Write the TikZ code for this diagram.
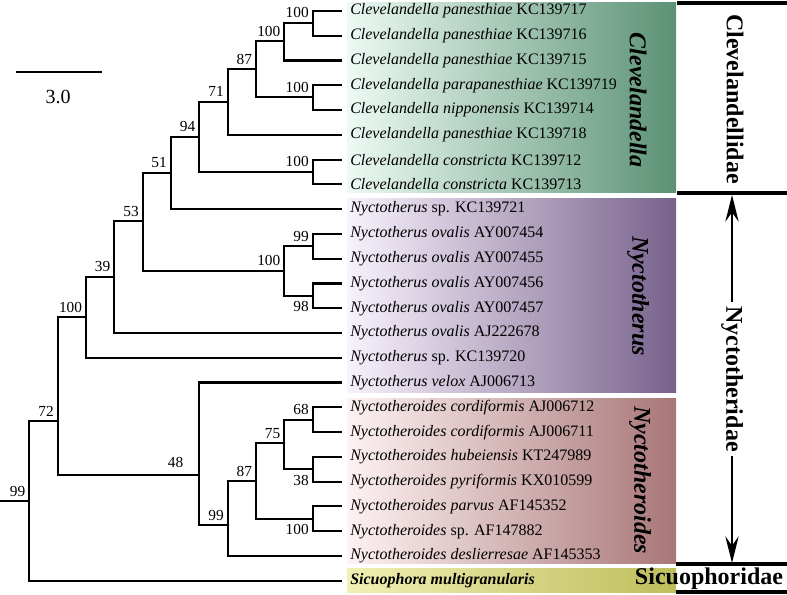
\documentclass[tikz,border=0pt]{standalone}
\usepackage{fontspec}
\setmainfont{Liberation Serif}
\usetikzlibrary{arrows.meta,positioning}
\definecolor{clevL}{RGB}{236,250,243}
\definecolor{clevR}{RGB}{92,146,118}
\definecolor{nyctL}{RGB}{248,242,252}
\definecolor{nyctR}{RGB}{120,98,140}
\definecolor{nyroL}{RGB}{254,242,242}
\definecolor{nyroR}{RGB}{168,118,120}
\definecolor{sicuL}{RGB}{240,240,180}
\definecolor{sicuR}{RGB}{190,190,92}
\tikzset{
  branch/.style={line width=1.6pt, line cap=rect},
  taxon/.style={anchor=west, inner sep=0pt, font=\fontsize{12}{14}\selectfont},
  bsup/.style={inner sep=1pt, anchor=south east, xshift=-1.8pt, yshift=2.4pt,
    font=\fontsize{11.5}{13}\selectfont},
  bsdown/.style={inner sep=1pt, anchor=north east, xshift=-1.8pt, yshift=-3pt,
    font=\fontsize{11.5}{13}\selectfont},
  genus/.style={rotate=-90, inner sep=0pt, font=\fontsize{18}{20}\selectfont\bfseries\itshape},
  family/.style={inner sep=0pt, font=\fontsize{18}{20}\selectfont\bfseries},
  familybar/.style={line width=2.5pt},
  familyarrow/.style={line width=1.5pt, -{Stealth[length=20pt,width=10pt,inset=7pt]}}
}

\begin{document}
\begin{tikzpicture}[x=0.75pt, y=-0.75pt]
  \useasboundingbox (0,0) rectangle (787,594);
  %
  % ==================================================================
  % Genus boxes (shaded, white on the left)
  % ==================================================================
  \shade[left color=clevL, right color=clevR] (347,2) rectangle (676,192);
  \shade[left color=nyctL, right color=nyctR] (347,198) rectangle (676,392);
  \shade[left color=nyroL, right color=nyroR] (347,398) rectangle (676,563);
  \shade[left color=sicuL, right color=sicuR] (347,568) rectangle (676,592);
  %
  % ==================================================================
  % Taxa: tip coordinate (l\i) and label (t\i), 24.77px per row
  % ==================================================================
  \foreach \i/\sp/\acc in {
      0/Clevelandella panesthiae/KC139717,
      1/Clevelandella panesthiae/KC139716,
      2/Clevelandella panesthiae/KC139715,
      3/Clevelandella parapanesthiae/KC139719,
      4/Clevelandella nipponensis/KC139714,
      5/Clevelandella panesthiae/KC139718,
      6/Clevelandella constricta/KC139712,
      7/Clevelandella constricta/KC139713,
      9/Nyctotherus ovalis/AY007454,
      10/Nyctotherus ovalis/AY007455,
      11/Nyctotherus ovalis/AY007456,
      12/Nyctotherus ovalis/AY007457,
      13/Nyctotherus ovalis/AJ222678,
      15/Nyctotherus velox/AJ006713,
      16/Nyctotheroides cordiformis/AJ006712,
      17/Nyctotheroides cordiformis/AJ006711,
      18/Nyctotheroides hubeiensis/KT247989,
      19/Nyctotheroides pyriformis/KX010599,
      20/Nyctotheroides parvus/AF145352,
      22/Nyctotheroides deslierresae/AF145353}{
    \coordinate (l\i) at (341,{11+24.77*\i});
    \node[taxon] (t\i) at (350,{11+24.77*\i}) {\textit{\sp} \acc};
  }
  % the "sp." rows keep the epithet upright
  \foreach \i/\sp/\acc in {8/Nyctotherus/KC139721, 14/Nyctotherus/KC139720,
      21/Nyctotheroides/AF147882}{
    \coordinate (l\i) at (341,{11+24.77*\i});
    \node[taxon] (t\i) at (350,{11+24.77*\i}) {\textit{\sp} sp. \acc};
  }
  \coordinate (l23) at (341,{11+24.77*23});
  \node[taxon] (t23) at (350,{11+24.77*23}) {\textbf{\textit{Sicuophora multigranularis}}};
  %
  % ==================================================================
  % Internal nodes (x = depth, y = stem)
  % ==================================================================
  \coordinate (nA) at (312.7,22.7);
  \coordinate (nB) at (284.3,41.3);
  \coordinate (nD) at (312.7,97);
  \coordinate (nC) at (256,69);
  \coordinate (nE) at (227.7,101.7);
  \coordinate (nG) at (312.7,171.7);
  \coordinate (nF) at (199.3,136.7);
  \coordinate (nH) at (170.7,172.7);
  \coordinate (nK) at (312.7,246.3);
  \coordinate (nL) at (312.7,295.9);
  \coordinate (nJ) at (284.3,270.7);
  \coordinate (nI) at (142.7,221);
  \coordinate (nM) at (114.3,276.7);
  \coordinate (nN) at (86,317);
  \coordinate (nU) at (312.7,419.7);
  \coordinate (nV) at (312.7,469.3);
  \coordinate (nS) at (284.3,443.3);
  \coordinate (nT) at (312.7,518.8);
  \coordinate (nR) at (256,481);
  \coordinate (nQ) at (227.7,525);
  \coordinate (nP) at (199.3,475);
  \coordinate (nO) at (57.7,421);
  \coordinate (nW) at (29.3,501);
  \coordinate (root) at (0.7,501);
  %
  % ==================================================================
  % Branches
  % ==================================================================
  \draw[branch] (l0) -| (nA) |- (l1);
  \draw[branch] (nA) -| (nB) |- (l2);
  \draw[branch] (l3) -| (nD) |- (l4);
  \draw[branch] (nB) -| (nC) |- (nD);
  \draw[branch] (nC) -| (nE) |- (l5);
  \draw[branch] (l6) -| (nG) |- (l7);
  \draw[branch] (nE) -| (nF) |- (nG);
  \draw[branch] (nF) -| (nH) |- (l8);
  \draw[branch] (l9) -| (nK) |- (l10);
  \draw[branch] (l11) -| (nL) |- (l12);
  \draw[branch] (nK) -| (nJ) |- (nL);
  \draw[branch] (nH) -| (nI) |- (nJ);
  \draw[branch] (nI) -| (nM) |- (l13);
  \draw[branch] (nM) -| (nN) |- (l14);
  \draw[branch] (l16) -| (nU) |- (l17);
  \draw[branch] (l18) -| (nV) |- (l19);
  \draw[branch] (nU) -| (nS) |- (nV);
  \draw[branch] (l20) -| (nT) |- (l21);
  \draw[branch] (nS) -| (nR) |- (nT);
  \draw[branch] (nR) -| (nQ) |- (l22);
  \draw[branch] (l15) -| (nP) |- (nQ);
  \draw[branch] (nN) -| (nO) |- (nP);
  \draw[branch] (nO) -| (nW) |- (l23);
  \draw[branch] (root) -- (nW);
  %
  % ==================================================================
  % Bootstrap values
  % ==================================================================
  \node[bsup] (bsA) at (nA) {100};
  \node[bsup] (bsB) at (nB) {100};
  \node[bsup] (bsD) at (nD) {100};
  \node[bsup] (bsC) at (nC) {87};
  \node[bsup] (bsE) at (nE) {71};
  \node[bsup] (bsG) at (nG) {100};
  \node[bsup] (bsF) at (nF) {94};
  \node[bsup] (bsH) at (nH) {51};
  \node[bsup] (bsK) at (nK) {99};
  \node[bsdown] (bsL) at (nL) {98};
  \node[bsup] (bsJ) at (nJ) {100};
  \node[bsup] (bsI) at (nI) {53};
  \node[bsup] (bsM) at (nM) {39};
  \node[bsup] (bsN) at (nN) {100};
  \node[bsup] (bsU) at (nU) {68};
  \node[bsdown] (bsV) at (nV) {38};
  \node[bsup] (bsS) at (nS) {75};
  \node[bsdown] (bsT) at (nT) {100};
  \node[bsup] (bsR) at (nR) {87};
  \node[bsup] (bsQ) at (nQ) {99};
  \node[bsup, xshift=-9pt, yshift=2pt] (bsP) at (nP) {48};
  \node[bsup] (bsO) at (nO) {72};
  \node[bsup] (bsW) at (nW) {99};
  %
  % ==================================================================
  % Scale bar
  % ==================================================================
  \coordinate (sbL) at (16,71.7);
  \coordinate (sbR) at (102,71.7);
  \draw[line width=1.6pt] (sbL) -- (sbR);
  \node[font=\fontsize{15}{17}\selectfont] (sbT) at (58,97) {3.0};
  %
  % ==================================================================
  % Genus and family labels
  % ==================================================================
  \node[genus] (gClev) at (638,100) {Clevelandella};
  \node[genus] (gNyct) at (638,296) {Nyctotherus};
  \node[genus] (gNyro) at (640,480) {Nyctotheroides};
  %
  \coordinate (barA1) at (677,3);   \coordinate (barA2) at (787,3);
  \coordinate (barB1) at (677,193); \coordinate (barB2) at (787,193);
  \coordinate (barC1) at (676,564); \coordinate (barC2) at (787,564);
  \coordinate (barD1) at (676,592); \coordinate (barD2) at (787,592);
  \draw[familybar] (barA1) -- (barA2);
  \draw[familybar] (barB1) -- (barB2);
  \draw[familybar] (barC1) -- (barC2);
  \draw[familybar] (barD1) -- (barD2);
  \node[family, rotate=-90] (fClev) at (735,99) {Clevelandellidae};
  \node[family, rotate=-90] (fNyct) at (732,379) {Nyctotheridae};
  \coordinate (arUp) at (732,195);
  \coordinate (arDn) at (732,563);
  \draw[familyarrow] (fNyct.west) ++(0,3pt) -- (arUp);
  \draw[familyarrow] (fNyct.east) ++(0,-3pt) -- (arDn);
  \node[family] (fSicu) at (709,579) {Sicuophoridae};
\end{tikzpicture}
\end{document}
